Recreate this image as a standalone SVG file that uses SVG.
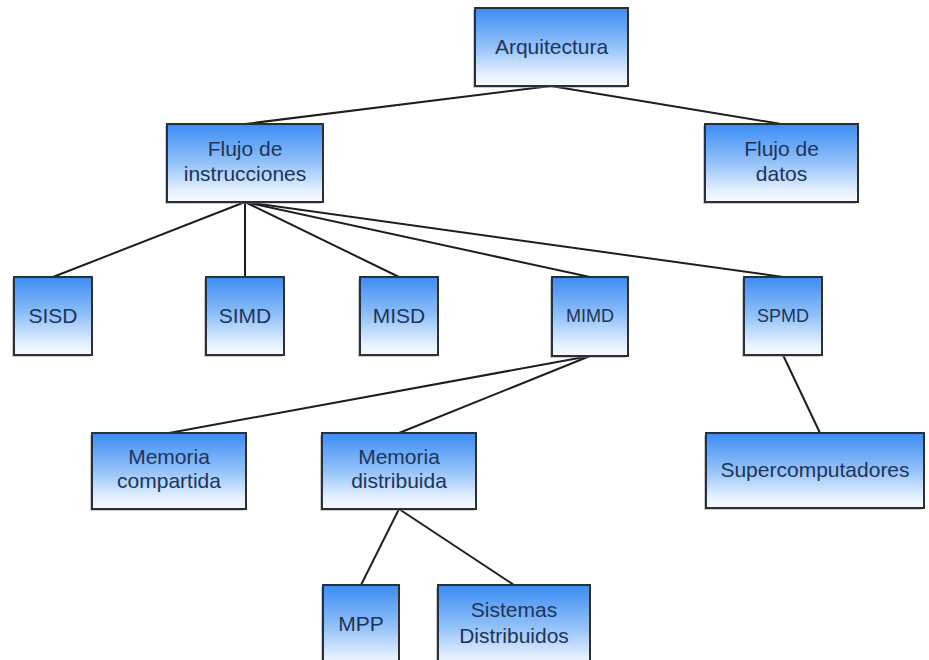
<svg xmlns="http://www.w3.org/2000/svg" width="929" height="660" viewBox="0 0 929 660">
  <defs>
    <linearGradient id="boxFill" x1="0" y1="0" x2="0" y2="1">
      <stop offset="0" stop-color="#3a8cf4"/>
      <stop offset="0.5" stop-color="#94c2f9"/>
      <stop offset="0.85" stop-color="#e4f0fe"/>
      <stop offset="1" stop-color="#f8fbff"/>
    </linearGradient>
  </defs>
  <style>
    .box { fill: url(#boxFill); stroke: #2b2f36; stroke-width: 2; }
    .shadow { fill: #8a8a8a; opacity: 0.45; }
    .lbl { font-family: "Liberation Sans", Arial, sans-serif; font-size: 21px; fill: #1d3558; text-anchor: middle; }
    .sm { font-size: 18px; }
    .edge { stroke: #1e1e1e; stroke-width: 2; fill: none; }
  </style>
  <rect width="929" height="660" fill="#ffffff"/>

  <g id="connectors">
    <line class="edge" x1="551" y1="86" x2="245" y2="124"/>
    <line class="edge" x1="551" y1="86" x2="781" y2="124"/>
    <line class="edge" x1="245" y1="202" x2="53" y2="277"/>
    <line class="edge" x1="245" y1="202" x2="245" y2="277"/>
    <line class="edge" x1="245" y1="202" x2="399" y2="277"/>
    <line class="edge" x1="245" y1="202" x2="590" y2="277"/>
    <line class="edge" x1="245" y1="202" x2="783" y2="277"/>
    <line class="edge" x1="590" y1="356" x2="169" y2="433"/>
    <line class="edge" x1="590" y1="356" x2="399" y2="433"/>
    <line class="edge" x1="783" y1="355" x2="820" y2="433"/>
    <line class="edge" x1="399" y1="509" x2="361" y2="585"/>
    <line class="edge" x1="399" y1="509" x2="514" y2="585"/>
  </g>

  <g id="arquitectura">
    <rect class="shadow" x="473" y="10" width="153" height="78"/>
    <rect class="box" x="475" y="8" width="153" height="78"/>
    <text class="lbl" x="551.5" y="54">Arquitectura</text>
  </g>

  <g id="flujo-instrucciones">
    <rect class="shadow" x="165" y="126" width="156" height="78"/>
    <rect class="box" x="167" y="124" width="156" height="78"/>
    <text class="lbl" x="245" y="156">Flujo de</text>
    <text class="lbl" x="245" y="181">instrucciones</text>
  </g>

  <g id="flujo-datos">
    <rect class="shadow" x="703" y="126" width="153" height="78"/>
    <rect class="box" x="705" y="124" width="153" height="78"/>
    <text class="lbl" x="781.5" y="156">Flujo de</text>
    <text class="lbl" x="781.5" y="181">datos</text>
  </g>

  <g id="sisd">
    <rect class="shadow" x="12" y="279" width="78" height="78"/>
    <rect class="box" x="14" y="277" width="78" height="78"/>
    <text class="lbl" x="53" y="323">SISD</text>
  </g>

  <g id="simd">
    <rect class="shadow" x="204" y="279" width="78" height="78"/>
    <rect class="box" x="206" y="277" width="78" height="78"/>
    <text class="lbl" x="245" y="323">SIMD</text>
  </g>

  <g id="misd">
    <rect class="shadow" x="358" y="279" width="78" height="78"/>
    <rect class="box" x="360" y="277" width="78" height="78"/>
    <text class="lbl" x="399" y="323">MISD</text>
  </g>

  <g id="mimd">
    <rect class="shadow" x="550" y="279" width="76" height="79"/>
    <rect class="box" x="552" y="277" width="76" height="79"/>
    <text class="lbl sm" x="590" y="322">MIMD</text>
  </g>

  <g id="spmd">
    <rect class="shadow" x="742" y="279" width="78" height="78"/>
    <rect class="box" x="744" y="277" width="78" height="78"/>
    <text class="lbl sm" x="783" y="322">SPMD</text>
  </g>

  <g id="memoria-compartida">
    <rect class="shadow" x="90" y="435" width="154" height="76"/>
    <rect class="box" x="92" y="433" width="154" height="76"/>
    <text class="lbl" x="169" y="464">Memoria</text>
    <text class="lbl" x="169" y="488">compartida</text>
  </g>

  <g id="memoria-distribuida">
    <rect class="shadow" x="320" y="435" width="154" height="76"/>
    <rect class="box" x="322" y="433" width="154" height="76"/>
    <text class="lbl" x="399" y="464">Memoria</text>
    <text class="lbl" x="399" y="488">distribuida</text>
  </g>

  <g id="supercomputadores">
    <rect class="shadow" x="704" y="435" width="218" height="75"/>
    <rect class="box" x="706" y="433" width="218" height="75"/>
    <text class="lbl" x="815" y="477">Supercomputadores</text>
  </g>

  <g id="mpp">
    <rect class="shadow" x="321" y="587" width="76" height="85"/>
    <rect class="box" x="323" y="585" width="76" height="85"/>
    <text class="lbl" x="361" y="631">MPP</text>
  </g>

  <g id="sistemas-distribuidos">
    <rect class="shadow" x="436" y="587" width="152" height="85"/>
    <rect class="box" x="438" y="585" width="152" height="85"/>
    <text class="lbl" x="514" y="617">Sistemas</text>
    <text class="lbl" x="514" y="643">Distribuidos</text>
  </g>
</svg>
